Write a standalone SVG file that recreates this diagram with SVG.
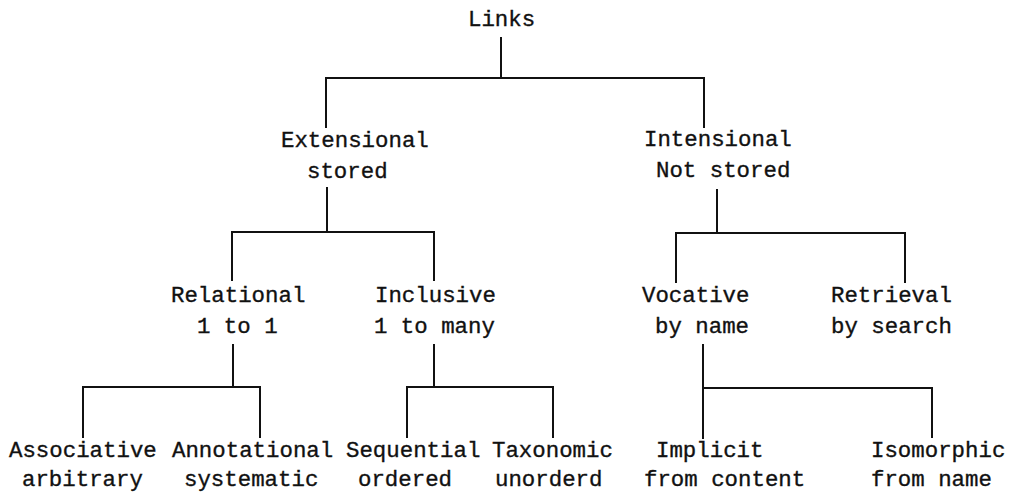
<svg xmlns="http://www.w3.org/2000/svg" width="1011" height="495" viewBox="0 0 1011 495">
<style>
text{font-family:"Liberation Mono","DejaVu Sans Mono",monospace;font-size:22.4px;fill:#111;stroke:#111;stroke-width:0.35}
.c line{stroke:#111;stroke-width:2;stroke-linecap:square}
</style>
<rect width="1011" height="495" fill="#fff"/>
<g class="c" id="connectors">
<line x1="501" y1="38" x2="501" y2="78"/>
<line x1="326" y1="78" x2="704" y2="78"/>
<line x1="326" y1="78" x2="326" y2="127"/>
<line x1="704" y1="78" x2="704" y2="127"/>
<line x1="327" y1="188" x2="327" y2="232"/>
<line x1="232" y1="232" x2="434" y2="232"/>
<line x1="232" y1="232" x2="232" y2="280"/>
<line x1="434" y1="232" x2="434" y2="280"/>
<line x1="717" y1="190" x2="717" y2="233"/>
<line x1="676" y1="233" x2="905" y2="233"/>
<line x1="676" y1="233" x2="676" y2="282"/>
<line x1="905" y1="233" x2="905" y2="282"/>
<line x1="233" y1="345" x2="233" y2="387"/>
<line x1="83" y1="387" x2="260" y2="387"/>
<line x1="83" y1="387" x2="83" y2="437"/>
<line x1="260" y1="387" x2="260" y2="437"/>
<line x1="434" y1="345" x2="434" y2="387"/>
<line x1="407" y1="387" x2="553" y2="387"/>
<line x1="407" y1="387" x2="407" y2="437"/>
<line x1="553" y1="387" x2="553" y2="437"/>
<line x1="703" y1="345" x2="703" y2="438"/>
<line x1="703" y1="388" x2="932" y2="388"/>
<line x1="932" y1="388" x2="932" y2="437"/>
</g>
<g id="links"><text x="468" y="26">Links</text></g>
<g id="extensional"><text x="281" y="147">Extensional</text><text x="307" y="178">stored</text></g>
<g id="intensional"><text x="644" y="146">Intensional</text><text x="656" y="177">Not stored</text></g>
<g id="relational"><text x="171" y="302">Relational</text><text x="197" y="333">1 to 1</text></g>
<g id="inclusive"><text x="375" y="302">Inclusive</text><text x="374" y="333">1 to many</text></g>
<g id="vocative"><text x="642" y="302">Vocative</text><text x="655" y="333">by name</text></g>
<g id="retrieval"><text x="831" y="302">Retrieval</text><text x="831" y="333">by search</text></g>
<g id="associative"><text x="9" y="457">Associative</text><text x="22" y="486">arbitrary</text></g>
<g id="annotational"><text x="172" y="457">Annotational</text><text x="184" y="486">systematic</text></g>
<g id="sequential"><text x="346" y="457">Sequential</text><text x="358" y="486">ordered</text></g>
<g id="taxonomic"><text x="492" y="457">Taxonomic</text><text x="495" y="486">unorderd</text></g>
<g id="implicit"><text x="656" y="457">Implicit</text><text x="644" y="486">from content</text></g>
<g id="isomorphic"><text x="871" y="457">Isomorphic</text><text x="871" y="486">from name</text></g>
</svg>
